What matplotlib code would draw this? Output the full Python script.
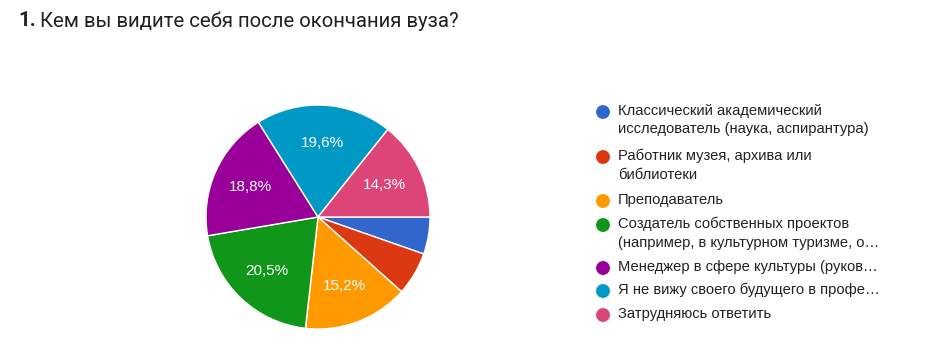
import matplotlib.pyplot as plt

plt.rcParams['font.family'] = ['Liberation Sans', 'DejaVu Sans']

labels = [
    "Классический академический\nисследователь (наука, аспирантура)",
    "Работник музея, архива или\nбиблиотеки",
    "Преподаватель",
    "Создатель собственных проектов\n(например, в культурном туризме, о…",
    "Менеджер в сфере культуры (руков…",
    "Я не вижу своего будущего в профе…",
    "Затрудняюсь ответить",
]
counts = [6, 7, 17, 23, 21, 22, 16]
colors = ["#3366cc", "#dc3912", "#ff9900", "#109618", "#990099", "#0099c6", "#dd4477"]

W, H = 942, 353
fig = plt.figure(figsize=(W / 100, H / 100), dpi=100)

# background axes in pixel coords for title and legend
bg = fig.add_axes([0, 0, 1, 1])
bg.set_xlim(0, W)
bg.set_ylim(H, 0)
bg.axis("off")

bg.text(18, 21, "1.", fontsize=14.7, fontweight="bold", color="#202124",
        va="center", family="Roboto")
bg.text(40, 21, "Кем вы видите себя после окончания вуза?", fontsize=14.7,
        color="#202124", va="center", family="Roboto")

# pie
cx, cy, r = 318, 217, 112
pax = fig.add_axes([(cx - r) / W, (H - cy - r) / H, 2 * r / W, 2 * r / H])

def pct(p):
    return f"{p:.1f}%".replace(".", ",") if p > 10 else ""

wedges, texts, autotexts = pax.pie(
    counts, colors=colors, startangle=0, counterclock=False,
    autopct=pct, pctdistance=0.66,
    wedgeprops=dict(edgecolor="white", linewidth=1),
    textprops=dict(color="white", fontsize=11),
)
pax.set_xlim(-1, 1)
pax.set_ylim(-1, 1)
pax.set_aspect("equal")

# legend
ys = [112, 157, 201, 225, 268, 291, 315]
for lab, col, y in zip(labels, colors, ys):
    bg.scatter([603], [y], s=100, color=col, edgecolors="none")
    bg.text(618, y - 8, lab, fontsize=10.6, color="#222222", va="top",
            linespacing=1.4)

fig.savefig("out.png", dpi=100)
